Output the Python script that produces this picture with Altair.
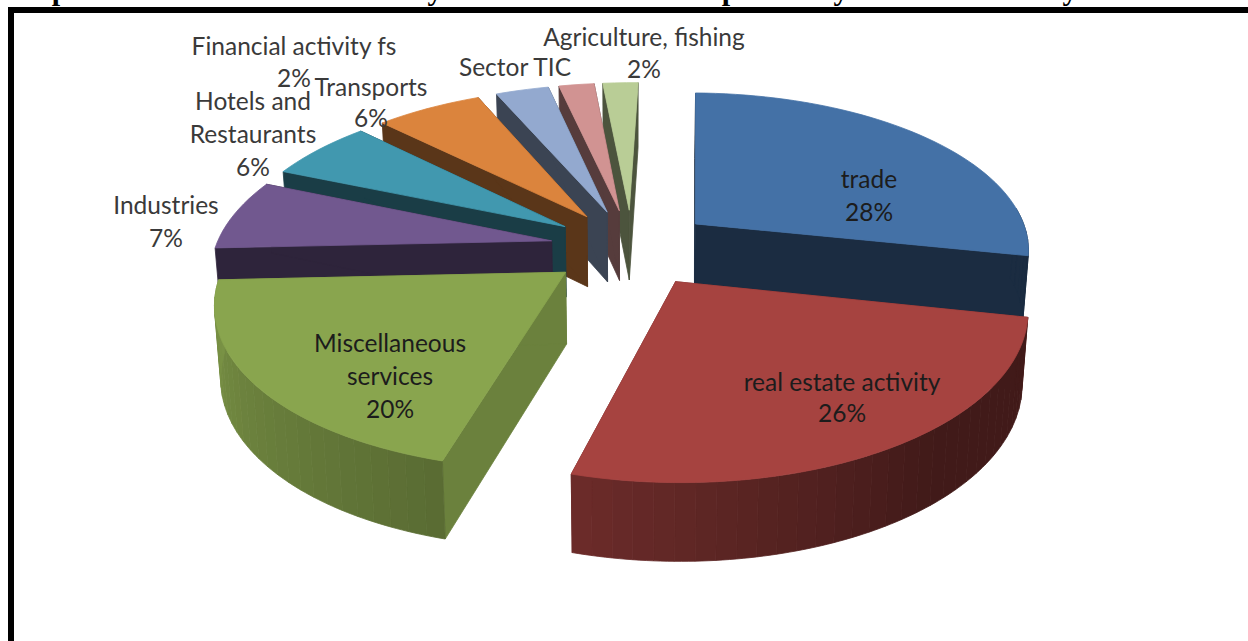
import math
import altair as alt
import pandas as pd
import numpy as np

# Share of each sector, in percent, clockwise from twelve o'clock
sectors = ["trade", "real estate activity", "Miscellaneous services", "Industries",
           "Hotels and Restaurants", "Transports", "Sector TIC",
           "Financial activity fs", "Agriculture, fishing"]
shares = [28, 26, 20, 7, 6, 6, 3, 2, 2]
top_colors = ["#4471a6", "#a64340", "#89a54e", "#71588f", "#4198af",
              "#db843d", "#93a9cf", "#d19392", "#b9cd96"]
wall_shade = [0.39, 0.64, 0.78, 0.41, 0.40, 0.41, 0.40, 0.41, 0.41]

# Wedges whose curved outer face can be seen
rim_visible = [True, True, True, False, False, False, False, False, False]

# Back-to-front painting order of the wedges
paint_order = [8, 7, 6, 5, 4, 3, 0, 2, 1]

# Projection of the exploded, tilted pie
CX, CY = 632.0, 247.5
AX, BY = 336.0, 158.0
PERSP = 0.155
SHEAR = 3.5
EXPLODE = 0.245
ROT = 1.0
DEPTH = 71.0
TAPER = 0.985
BAND = 3.0


def project(u, v, low=False):
    s = 1.0 / (1.0 + PERSP * v)
    x = CX + AX * u * s + SHEAR * v
    y = CY - BY * v * s
    if low:
        x = CX + (x - CX) * TAPER
        y = y + DEPTH * math.sqrt(s)
    return x, y


def shade(hex_color, f):
    r, g, b = (int(hex_color[i:i + 2], 16) for i in (1, 3, 5))
    return "#%02x%02x%02x" % (round(r * f), round(g * f), round(b * f))


def side_shade(theta):
    return float(np.interp(theta, [90, 140, 195, 270, 360], [0.39, 0.39, 0.65, 0.9, 0.9]))


rows = []
poly_id = 0


def add_poly(points, color):
    global poly_id
    for i, (x, y) in enumerate(points):
        rows.append({"poly": poly_id, "i": i, "x": x, "y": y, "color": color})
    poly_id += 1


edges = np.cumsum([0] + shares) * 3.6 + ROT
for k in paint_order:
    t0, t1 = edges[k], edges[k + 1]
    mid = math.radians((t0 + t1) / 2)
    eu, ev = EXPLODE * math.sin(mid), EXPLODE * math.cos(mid)

    def rim(theta):
        a = math.radians(theta)
        return eu + math.sin(a), ev + math.cos(a)

    color = top_colors[k]
    wall = shade(color, wall_shade[k])
    for t in (t0, t1):
        u, v = rim(t)
        add_poly([project(eu, ev), project(u, v), project(u, v, True), project(eu, ev, True)], wall)

    if rim_visible[k]:
        bands = np.linspace(t0, t1, int((t1 - t0) / BAND) + 2)
        for a, b in zip(bands[:-1], bands[1:]):
            if math.cos(math.radians((a + b) / 2)) < 0.12:
                arc = np.linspace(a, b, 4)
                upper = [project(*rim(t)) for t in arc]
                lower = [project(*rim(t), True) for t in arc[::-1]]
                add_poly(upper + lower, shade(color, side_shade((a + b) / 2)))

    thetas = np.linspace(t0, t1, max(3, int((t1 - t0) / 2) + 1))
    add_poly([project(eu, ev)] + [project(*rim(t)) for t in thetas], color)

faces = pd.DataFrame(rows)

x_scale = alt.Scale(domain=[0, 1248], range=[0, 1248])
y_scale = alt.Scale(domain=[0, 641], range=[0, 641])
X = lambda f: alt.X(f, type="quantitative", scale=x_scale, axis=None)
Y = lambda f: alt.Y(f, type="quantitative", scale=y_scale, axis=None)

pie = alt.Chart(faces).mark_line(strokeWidth=0.8, interpolate="linear-closed").encode(
    x=X("x"), y=Y("y"),
    detail="poly:N",
    order="i:Q",
    fill=alt.Fill("color:N", scale=None),
    stroke=alt.Stroke("color:N", scale=None),
)

# Data labels, line by line
outer_labels = pd.DataFrame([
    ("Financial activity fs", 294, 47), ("2%", 294, 79),
    ("Hotels and", 253, 102), ("Restaurants", 253, 135), ("6%", 253, 168),
    ("Transports", 371, 88), ("6%", 371, 119),
    ("Industries", 166, 206), ("7%", 166, 239),
    ("Sector TIC", 515, 68),
    ("Agriculture, fishing", 644, 38), ("2%", 644, 70),
], columns=["text", "x", "y"])
inner_labels = pd.DataFrame([
    ("trade", 869, 180), ("28%", 869, 213),
    ("real estate activity", 842, 383), ("26%", 842, 414),
    ("Miscellaneous", 390, 344), ("services", 390, 377), ("20%", 390, 410),
], columns=["text", "x", "y"])


def label_layer(df, color):
    return alt.Chart(df).mark_text(font="Lato", fontSize=24.5, color=color, baseline="middle",
                                   align="center", dy=1).encode(
        x=X("x"), y=Y("y"), text="text:N")


# Caption running above the frame, only its descenders fall inside the page
caption_glyphs = pd.DataFrame({"text": ["p", "y", "p", "y", "y"],
                               "x": [60, 435, 730, 841, 1070],
                               "y": [0, 0, 0, 0, 0]})
caption = alt.Chart(caption_glyphs).mark_text(
    font="Liberation Serif", fontSize=30, fontWeight="bold", color="black",
    baseline="alphabetic", align="center").encode(x=X("x"), y=Y("y"), text="text:N")

# Heavy frame around the figure
frame = pd.DataFrame({"x": [8, 8], "x2": [1248, 14], "y": [7, 7], "y2": [13, 641]})
border = alt.Chart(frame).mark_rect(color="black").encode(
    x=X("x"), x2="x2:Q", y=Y("y"), y2="y2:Q")

chart = alt.layer(caption, border, pie, label_layer(outer_labels, "#3a3a3a"),
                  label_layer(inner_labels, "#1c1c1c")).properties(
    width=1248, height=641, padding=0, autosize=alt.AutoSizeParams(type="none"),
    background="white",
).configure_view(stroke=None)

chart.save("out.html", embed_options={"renderer": "svg", "actions": False})
